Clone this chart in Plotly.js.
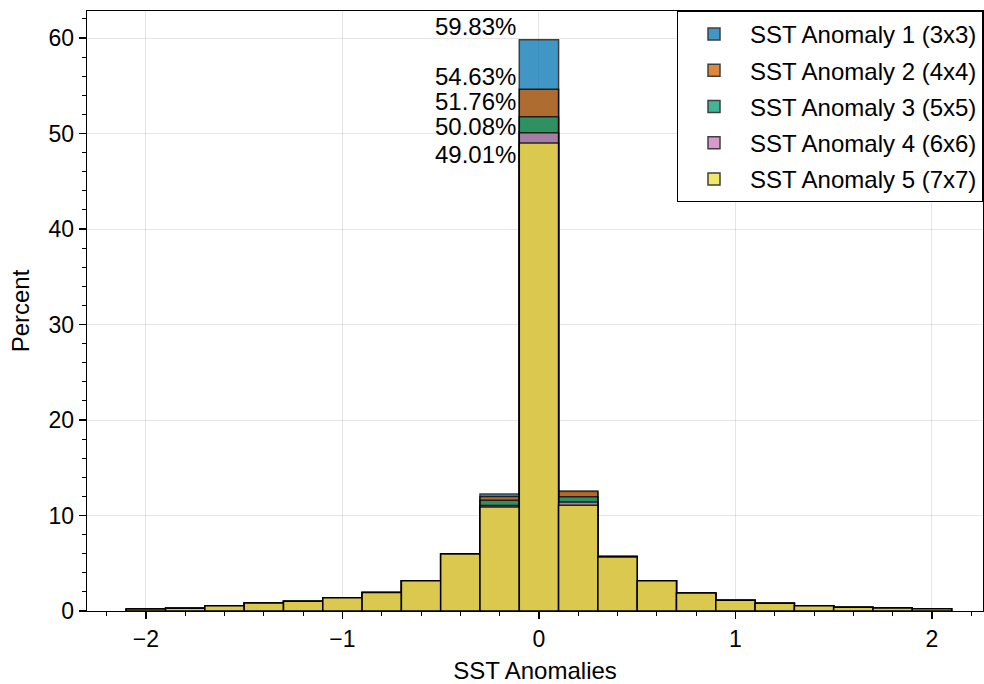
<!DOCTYPE html>
<html>
<head>
<meta charset="utf-8">
<script src="https://cdn.plot.ly/plotly-3.0.1.min.js"></script>
<style>html,body{margin:0;padding:0;background:#fff;}</style>
</head>
<body>
<div id="chart" style="width:984px;height:684px;"></div>
<script>
// Bin centres (SST anomaly, bin width 0.2)
const binCenters = [-2.0, -1.8, -1.6, -1.4, -1.2, -1.0, -0.8, -0.6, -0.4, -0.2, 0.0,
                    0.2, 0.4, 0.6, 0.8, 1.0, 1.2, 1.4, 1.6, 1.8, 2.0];
const binWidth = 0.2;

const seriesNames = [
  "SST Anomaly 1 (3x3)",
  "SST Anomaly 2 (4x4)",
  "SST Anomaly 3 (5x5)",
  "SST Anomaly 4 (6x6)",
  "SST Anomaly 5 (7x7)"
];

// Percent of samples in each bin
const anomaly1 = [0.19, 0.29, 0.55, 0.82, 1.00, 1.38, 1.93, 3.16, 5.95, 12.25, 59.83,
                  12.45, 5.70, 3.16, 1.86, 1.11, 0.79, 0.55, 0.37, 0.30, 0.23];
const anomaly2 = [0.20, 0.30, 0.56, 0.83, 1.01, 1.39, 1.94, 3.17, 5.98, 12.00, 54.63,
                  12.57, 5.74, 3.18, 1.87, 1.12, 0.80, 0.56, 0.38, 0.31, 0.24];
const anomaly3 = [0.20, 0.30, 0.56, 0.84, 1.01, 1.40, 1.95, 3.18, 6.00, 11.59, 51.76,
                  11.97, 5.72, 3.18, 1.88, 1.12, 0.80, 0.56, 0.38, 0.31, 0.24];
const anomaly4 = [0.20, 0.30, 0.56, 0.84, 1.01, 1.40, 1.95, 3.18, 5.99, 11.05, 50.08,
                  11.41, 5.68, 3.18, 1.88, 1.12, 0.80, 0.56, 0.38, 0.31, 0.24];
const anomaly5 = [0.20, 0.30, 0.56, 0.84, 1.01, 1.40, 1.95, 3.18, 5.97, 10.89, 49.01,
                  11.07, 5.65, 3.18, 1.88, 1.12, 0.80, 0.56, 0.38, 0.31, 0.24];

const allSeries = [anomaly1, anomaly2, anomaly3, anomaly4, anomaly5];

// Styles
const colors = ["#0173B2", "#D55E00", "#029E73", "#CC78BC", "#ECE133"];
const labelShiftPx = [13, 13, 15, 6, -12];   // label offsets (pixels) to avoid overlap
const FONT = "Liberation Sans, Arial, Helvetica, sans-serif";

const traces = allSeries.map((vals, i) => ({
  type: "bar",
  x: binCenters,
  y: vals,
  width: binWidth,
  name: seriesNames[i],
  legendgroup: "g" + i,
  marker: {color: colors[i], line: {color: "#000000", width: 1.5}},
  opacity: 0.75,
  hoverinfo: "x+y+name"
}));

const centerIdx = binCenters.indexOf(0.0);
const annotations = allSeries.map((vals, i) => ({
  x: binCenters[centerIdx] - binWidth / 2,
  y: vals[centerIdx],
  xref: "x", yref: "y",
  text: vals[centerIdx].toFixed(2) + "%",
  showarrow: false,
  xanchor: "right",
  yanchor: "middle",
  xshift: -1,
  yshift: labelShiftPx[i],
  font: {family: FONT, size: 24, color: "#000"}
}));

const layout = {
  width: 984, height: 684,
  margin: {l: 87, r: 1, t: 11, b: 73, pad: 0},
  paper_bgcolor: "#ffffff",
  plot_bgcolor: "#ffffff",
  barmode: "overlay",
  font: {family: FONT, size: 23, color: "#000"},
  showlegend: true,
  legend: {
    x: 1, xanchor: "right", y: 1, yanchor: "top",
    bgcolor: "#ffffff", bordercolor: "#000000", borderwidth: 1,
    font: {family: FONT, size: 24, color: "#000"},
    traceorder: "grouped",
    tracegroupgap: 2,
    itemwidth: 62
  },
  xaxis: {
    range: [-2.30, 2.26],
    tickvals: [-2, -1, 0, 1, 2],
    ticks: "outside", ticklen: 7, tickwidth: 1.2, tickcolor: "#000",
    showline: true, linecolor: "#000", linewidth: 1.3, mirror: true,
    showgrid: true, gridcolor: "rgba(0,0,0,0.10)", gridwidth: 1,
    zeroline: false,
    tickfont: {family: FONT, size: 23},
    minor: {dtick: 0.2, tick0: 0, ticks: "outside", ticklen: 4, tickwidth: 1, tickcolor: "#000", showgrid: false},
    title: {text: "SST Anomalies", font: {family: FONT, size: 24}, standoff: 12}
  },
  yaxis: {
    range: [0, 62.83],
    tickvals: [0, 10, 20, 30, 40, 50, 60],
    ticks: "outside", ticklen: 7, tickwidth: 1.2, tickcolor: "#000",
    showline: true, linecolor: "#000", linewidth: 1.3, mirror: true,
    showgrid: true, gridcolor: "rgba(0,0,0,0.10)", gridwidth: 1,
    zeroline: false,
    tickfont: {family: FONT, size: 23},
    minor: {dtick: 2, tick0: 0, ticks: "outside", ticklen: 4, tickwidth: 1, tickcolor: "#000", showgrid: false},
    title: {text: "Percent", font: {family: FONT, size: 24}, standoff: 12}
  },
  annotations: annotations
};

Plotly.newPlot("chart", traces, layout, {displayModeBar: false, staticPlot: true});
</script>
</body>
</html>
